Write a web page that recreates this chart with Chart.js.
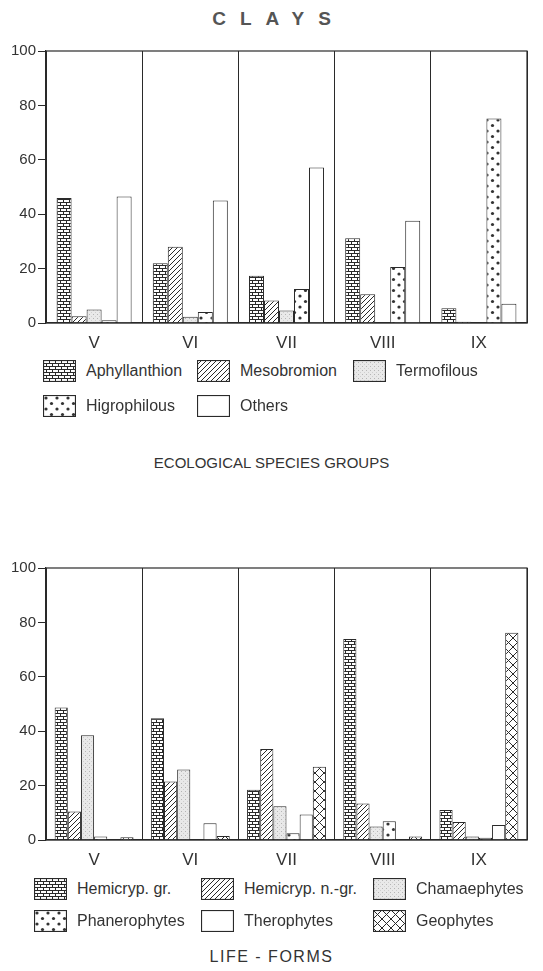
<!DOCTYPE html>
<html>
<head>
<meta charset="utf-8">
<script src="https://cdn.jsdelivr.net/npm/chart.js@4.4.1/dist/chart.umd.min.js"></script>
<style>
  body { margin: 0; background: #fff; font-family: "Liberation Sans", Arial, sans-serif; color: #333; }
  .page { position: relative; width: 543px; height: 971px; overflow: hidden; }
  .abs { position: absolute; }
  .title { left: 0; width: 543px; top: 8px; text-align: center; font-weight: bold; font-size: 19px; letter-spacing: 14px; text-indent: 14px; color: #555; }
  .sub { left: 0; width: 543px; text-align: center; font-size: 15px; color: #333; }
  .legend { display: grid; font-size: 16px; color: #333; }
  .legend .item { display: flex; align-items: center; }
  .legend canvas { display: block; }
</style>
</head>
<body>
<div class="page">
  <div class="abs title">CLAYS</div>
  <canvas id="ecoChart" class="abs" style="left:0;top:40px" width="543" height="313"></canvas>
  <div id="ecoLegend" class="abs legend" style="left:43px;top:359px;grid-template-columns:154px 156px auto;grid-auto-rows:23px;row-gap:12px"></div>
  <div class="abs sub" style="top:454px">ECOLOGICAL SPECIES GROUPS</div>

  <canvas id="lifeChart" class="abs" style="left:0;top:557px" width="543" height="313"></canvas>
  <div id="lifeLegend" class="abs legend" style="left:34px;top:878px;grid-template-columns:167px 172px auto;grid-auto-rows:22px;row-gap:10px"></div>
  <div class="abs sub" style="top:948px;font-size:16px;letter-spacing:1.5px">LIFE - FORMS</div>
</div>

<script>
// data (percent of species)
const categories = ['V', 'VI', 'VII', 'VIII', 'IX'];
const yTicks = [0, 20, 40, 60, 80, 100];

// ecological species groups
const ecoLabels = ['Aphyllanthion', 'Mesobromion', 'Termofilous', 'Higrophilous', 'Others'];
const aphyllanthion = [46, 22, 17.4, 31.2, 5.4];
const mesobromion = [2.5, 28, 8.3, 10.6, 0.5];
const termofilous = [5, 2.3, 4.6, 0, 0];
const higrophilous = [1, 4, 12.5, 20.6, 75.2];
const others = [46.5, 45, 57.2, 37.6, 7.1];

// life forms
const lifeLabels = ['Hemicryp. gr.', 'Hemicryp. n.-gr.', 'Chamaephytes', 'Phanerophytes', 'Therophytes', 'Geophytes'];
const hemicrypGr = [48.7, 44.8, 18.5, 73.9, 11];
const hemicrypNgr = [10.5, 21.5, 33.5, 13.4, 6.6];
const chamaephytes = [38.5, 25.9, 12.4, 5, 1.3];
const phanerophytes = [1.3, 0, 2.5, 6.9, 0.8];
const therophytes = [0, 6.2, 9.4, 0, 5.5];
const geophytes = [1, 1.5, 26.9, 1.3, 76.2];

const INK = '#2a2a2a';

// fill patterns like the printed figure
function tile(w, h, draw, bg) {
    const c = document.createElement('canvas');
    c.width = w; c.height = h;
    const g = c.getContext('2d');
    g.fillStyle = bg || '#fff';
    g.fillRect(0, 0, w, h);
    draw(g);
    return c;
}

const tiles = {
    brick: tile(6, 6, g => {
        g.fillStyle = INK;
        g.fillRect(0, 0, 6, 1);
        g.fillRect(0, 3, 6, 1);
        g.fillRect(0, 0, 1, 3);
        g.fillRect(3, 3, 1, 3);
    }),
    hatch: tile(5, 5, g => {
        g.strokeStyle = INK;
        g.lineWidth = 1;
        g.beginPath();
        g.moveTo(0, 5); g.lineTo(5, 0);
        g.moveTo(-1, 1); g.lineTo(1, -1);
        g.moveTo(4, 6); g.lineTo(6, 4);
        g.stroke();
    }),
    stipple: tile(4, 4, g => {
        g.fillStyle = '#b5b5b5';
        g.fillRect(1, 2, 1, 1);
        g.fillStyle = '#cfcfcf';
        g.fillRect(3, 0, 1, 1);
    }, '#e9e9e9'),
    dots: tile(11, 11, g => {
        g.fillStyle = '#333';
        g.beginPath(); g.arc(3, 3, 1.6, 0, Math.PI * 2); g.fill();
        g.beginPath(); g.arc(8.5, 8.5, 1.6, 0, Math.PI * 2); g.fill();
    }),
    plain: tile(2, 2, () => {}),
    cross: tile(9, 9, g => {
        g.strokeStyle = INK;
        g.lineWidth = 1;
        g.beginPath();
        g.moveTo(0, 0); g.lineTo(9, 9);
        g.moveTo(9, 0); g.lineTo(0, 9);
        g.stroke();
    })
};

const helper = document.createElement('canvas').getContext('2d');
const pattern = name => helper.createPattern(tiles[name], 'repeat');

function makeDatasets(labels, series, fills) {
    return labels.map((label, i) => ({
        label: label,
        data: series[i],
        backgroundColor: pattern(fills[i]),
        borderColor: INK,
        borderWidth: 1,
        fillName: fills[i]
    }));
}

// closes the plot box (top + right edge)
const framePlugin = {
    id: 'frame',
    afterDraw(chart) {
        const { ctx, chartArea: a } = chart;
        ctx.save();
        ctx.strokeStyle = INK;
        ctx.lineWidth = 1.2;
        ctx.strokeRect(a.left, a.top, a.right - a.left, a.bottom - a.top);
        ctx.restore();
    }
};

function drawChart(id, datasets, catPct) {
    return new Chart(document.getElementById(id), {
        type: 'bar',
        data: { labels: categories, datasets: datasets },
        plugins: [framePlugin],
        options: {
            responsive: false,
            animation: false,
            devicePixelRatio: 1,
            layout: { padding: { top: 7, right: 16, left: 0, bottom: 0 } },
            datasets: { bar: { categoryPercentage: catPct, barPercentage: 1 } },
            plugins: { legend: { display: false }, tooltip: { enabled: false } },
            scales: {
                x: {
                    grid: { offset: true, drawTicks: false, color: INK, lineWidth: 1 },
                    border: { color: INK, width: 1.2 },
                    ticks: { color: '#333', font: { family: 'Liberation Sans', size: 17 }, padding: 10 },
                    afterFit: s => { s.height = 30; }
                },
                y: {
                    min: 0,
                    max: 100,
                    afterBuildTicks: s => { s.ticks = yTicks.map(v => ({ value: v })); },
                    grid: { drawOnChartArea: false, drawTicks: true, tickLength: 8, color: INK },
                    border: { color: INK, width: 1.2 },
                    ticks: { color: '#333', font: { family: 'Liberation Sans', size: 15 }, padding: 2 },
                    afterFit: s => { s.width = 46; }
                }
            }
        }
    });
}

function buildLegend(id, datasets) {
    const box = document.getElementById(id);
    datasets.forEach(ds => {
        const item = document.createElement('div');
        item.className = 'item';
        const sw = document.createElement('canvas');
        sw.width = 33; sw.height = 22;
        const g = sw.getContext('2d');
        g.fillStyle = g.createPattern(tiles[ds.fillName], 'repeat');
        g.fillRect(0, 0, 33, 22);
        g.strokeStyle = INK;
        g.lineWidth = 1.2;
        g.strokeRect(0.5, 0.5, 32, 21);
        const txt = document.createElement('span');
        txt.textContent = ds.label;
        txt.style.marginLeft = '10px';
        item.appendChild(sw);
        item.appendChild(txt);
        box.appendChild(item);
    });
}

const ecoSets = makeDatasets(ecoLabels,
    [aphyllanthion, mesobromion, termofilous, higrophilous, others],
    ['brick', 'hatch', 'stipple', 'dots', 'plain']);
const lifeSets = makeDatasets(lifeLabels,
    [hemicrypGr, hemicrypNgr, chamaephytes, phanerophytes, therophytes, geophytes],
    ['brick', 'hatch', 'stipple', 'dots', 'plain', 'cross']);

drawChart('ecoChart', ecoSets, 0.78);
drawChart('lifeChart', lifeSets, 0.82);
buildLegend('ecoLegend', ecoSets);
buildLegend('lifeLegend', lifeSets);
</script>
</body>
</html>
